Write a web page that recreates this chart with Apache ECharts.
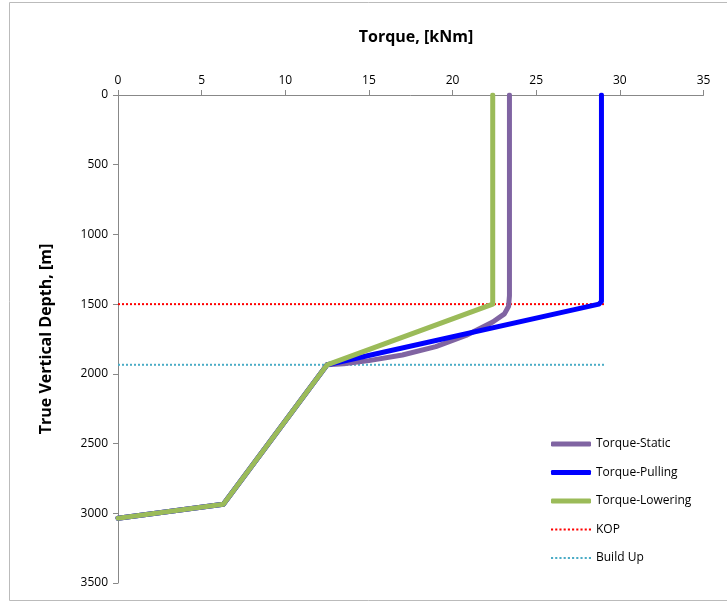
<!DOCTYPE html>
<html>
<head>
<meta charset="utf-8">
<script src="https://cdn.jsdelivr.net/npm/echarts@6/dist/echarts.min.js"></script>
<style>html,body{margin:0;padding:0;background:#fff;}#c{width:727px;height:602px;}</style>
</head>
<body>
<div id="c"></div>
<script>
// Data: [torque kNm, depth m]
var staticTorque = [[23.4,0],[23.4,1440],[23.35,1515],[23.1,1570],[22.4,1628],[20.8,1725],[19.0,1805],[17.0,1865],[15.0,1905],[13.5,1928],[12.5,1935],[6.3,2935],[0,3035]];
var pullingTorque = [[28.9,0],[28.9,1480],[28.75,1500],[12.5,1935],[6.3,2935],[0,3035]];
var loweringTorque = [[22.4,0],[22.4,1500],[12.5,1935],[6.3,2935],[0,3035]];
var kopLine = [[0,1500],[29.1,1500]];
var buildUpLine = [[0,1935],[29.1,1935]];
var seriesNames = ['Torque-Static','Torque-Pulling','Torque-Lowering','KOP','Build Up'];

var chart = echarts.init(document.getElementById('c'));
var font = 'Open Sans, Liberation Sans, sans-serif';
var dotPath = 'path://';
for (var i = 0; i < 10; i++) { var x0 = i * 4; dotPath += 'M' + x0 + ',0L' + (x0 + 2) + ',0L' + (x0 + 2) + ',2L' + x0 + ',2Z'; }
function solid(name, data, color) {
  return {name:name, type:'line', data:data, symbol:'none', smooth:false,
    lineStyle:{color:color, width:5, cap:'round', join:'round'}, itemStyle:{color:color}, z:3};
}
function dotted(name, data, color) {
  return {name:name, type:'line', data:data, symbol:'none',
    lineStyle:{color:color, width:2, type:[2,2]}, itemStyle:{color:color}, z:2};
}
chart.setOption({
  animation:false,
  graphic:[{type:'rect', shape:{x:9.5,y:2.5,width:730,height:598}, style:{fill:'none',stroke:'#bbbbbb',lineWidth:1}}],
  title:{text:'Torque, [kNm]', left:411, top:24, textAlign:'center',
    textStyle:{fontFamily:font, fontSize:16, fontWeight:'bold', color:'#000'}},
  grid:{left:118, top:95, right:23.5, bottom:19},
  legend:{orient:'vertical', left:546, top:433, itemWidth:40, itemGap:16.5,
    data:[
      {name:seriesNames[0], icon:'roundRect', itemHeight:5},
      {name:seriesNames[1], icon:'roundRect'},
      {name:seriesNames[2], icon:'roundRect'},
      {name:seriesNames[3], icon:dotPath},
      {name:seriesNames[4], icon:dotPath}
    ],
    itemHeight:5,
    textStyle:{fontFamily:font, fontSize:12, color:'#000'}},
  xAxis:{type:'value', position:'top', min:0, max:35, interval:5,
    axisLine:{show:true, lineStyle:{color:'#888'}}, axisTick:{show:true, length:5, lineStyle:{color:'#888'}},
    splitLine:{show:false},
    axisLabel:{fontFamily:font, fontSize:12, color:'#000', margin:8}},
  yAxis:{type:'value', inverse:true, min:0, max:3500, interval:500,
    name:'True Vertical Depth, [m]', nameLocation:'middle', nameGap:64, nameRotate:90,
    nameTextStyle:{fontFamily:font, fontSize:16, fontWeight:'bold', color:'#000'},
    axisLine:{show:true, lineStyle:{color:'#888'}}, axisTick:{show:true, length:5, lineStyle:{color:'#888'}},
    splitLine:{show:false},
    axisLabel:{fontFamily:font, fontSize:12, color:'#000', margin:10, formatter:function(v){return String(v);}}},
  series:[
    solid(seriesNames[0], staticTorque, '#8064A2'),
    solid(seriesNames[1], pullingTorque, '#0000FF'),
    solid(seriesNames[2], loweringTorque, '#9BBB59'),
    dotted(seriesNames[3], kopLine, '#FF0000'),
    dotted(seriesNames[4], buildUpLine, '#4BACC6')
  ]
});
</script>
</body>
</html>
